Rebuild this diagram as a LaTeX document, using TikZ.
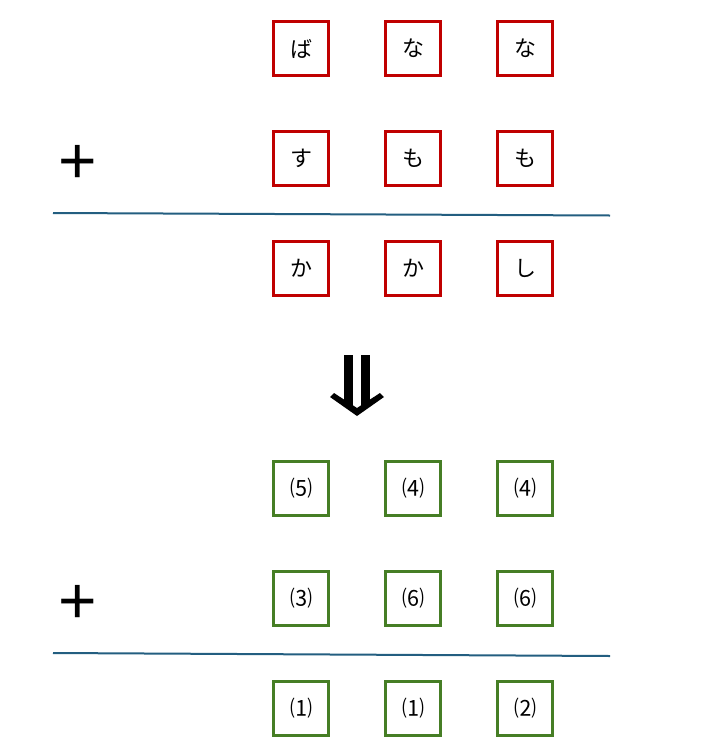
\documentclass[tikz,border=0pt]{standalone}
\usepackage{fontspec}
\newfontfamily\jpfont{Noto Sans CJK JP}
\newfontfamily\signofont{Liberation Sans}
\definecolor{rojo}{HTML}{C00000}
\definecolor{verde}{HTML}{467E25}
\definecolor{azul}{HTML}{235E80}
\tikzset{
  caja/.style={draw, line width=2.7pt, minimum width=55pt, minimum height=54pt,
    inner sep=0pt, font=\jpfont\fontsize{22}{22}\selectfont},
  cajaroja/.style={caja, draw=rojo},
  cajaverde/.style={caja, draw=verde},
  signo/.style={inner sep=0pt, font=\signofont\fontsize{66}{66}\selectfont},
  raya/.style={azul, line width=2pt}
}
\begin{document}
\begin{tikzpicture}[x=1pt,y=-1pt]
  \useasboundingbox (0,0) rectangle (708,756);

  % Palabras
  \node[cajaroja] (a1) at (301.3,48.5)  {ば};
  \node[cajaroja] (a2) at (413.3,48.5)  {な};
  \node[cajaroja] (a3) at (525.3,48.5)  {な};
  \node[cajaroja] (b1) at (301.3,158.5) {す};
  \node[cajaroja] (b2) at (413.3,158.5) {も};
  \node[cajaroja] (b3) at (525.3,158.5) {も};
  \node[cajaroja] (c1) at (301.3,268.5) {か};
  \node[cajaroja] (c2) at (413.3,268.5) {か};
  \node[cajaroja] (c3) at (525.3,268.5) {し};

  \node[signo] (mas1) at (78,164) {+};
  \draw[raya] (53,213) -- (610,215.5);

  % Flecha
  \fill (344,355) rectangle (352.5,405);
  \fill (361,355) rectangle (369.5,405);
  \fill (330,397) -- (357,416) -- (384,397) -- (380,393) -- (357,408) -- (334,393) -- cycle;

  % Numeros
  \node[cajaverde] (d1) at (301.3,488.5) {⑸};
  \node[cajaverde] (d2) at (413.3,488.5) {⑷};
  \node[cajaverde] (d3) at (525.3,488.5) {⑷};
  \node[cajaverde] (e1) at (301.3,598.5) {⑶};
  \node[cajaverde] (e2) at (413.3,598.5) {⑹};
  \node[cajaverde] (e3) at (525.3,598.5) {⑹};
  \node[cajaverde] (f1) at (301.3,708.5) {⑴};
  \node[cajaverde] (f2) at (413.3,708.5) {⑴};
  \node[cajaverde] (f3) at (525.3,708.5) {⑵};

  \node[signo] (mas2) at (78,604) {+};
  \draw[raya] (53,653) -- (610,656);
\end{tikzpicture}
\end{document}
